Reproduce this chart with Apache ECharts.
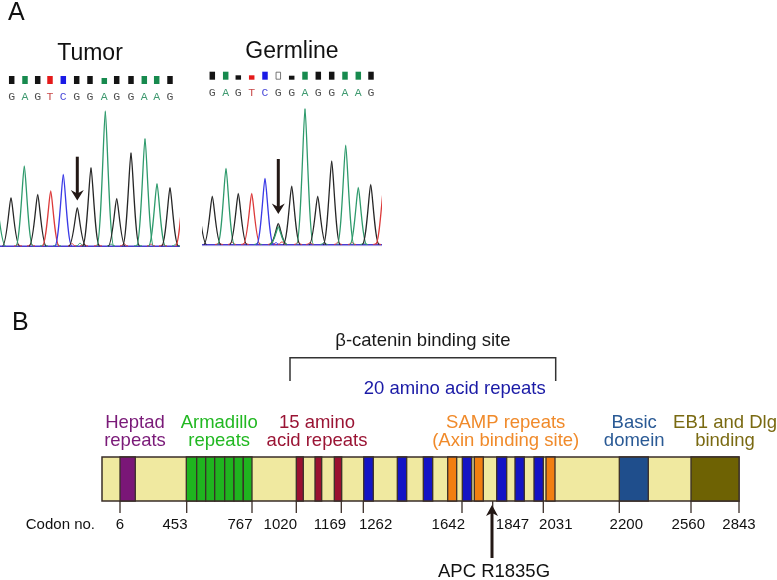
<!DOCTYPE html>
<html><head><meta charset="utf-8">
<script src="https://cdn.jsdelivr.net/npm/echarts@6/dist/echarts.min.js"></script>
<style>html,body{margin:0;padding:0;background:#fff}#c{width:777px;height:580px}</style>
</head><body><div id="c"></div>
<script>
// ================= DATA =================
// Panel A — Sanger traces (trace position units, signal height units)
const tumorCalls       = ['G','A','G','T','C','G','G','A','G','G','A','A','G'];
const tumorCallPos     = [11.7, 25, 37.7, 50, 63.3, 76.7, 90, 104.3, 116.7, 131, 144.3, 156.7, 170];
const tumorCallQual    = [1, 1, 1, 1, 1, 1, 1, 0.75, 1, 1, 1, 1, 1];
const tumorPeakPos     = [-3, 11, 24.3, 37.7, 50.7, 63.3, 77.3, 91, 105.3, 116.7, 131, 145, 157, 170, 184];
const tumorPeakHeight  = [40, 48.4, 80, 51.7, 55, 71.7, 38.4, 78.4, 135, 47.7, 93.4, 107.7, 62.4, 58.4, 62];
const tumorPeakBase    = ['A','G','A','G','T','C','G','G','A','G','G','A','A','G','T'];
const tumorNoisePos    = [18, 31, 44, 57, 72, 80, 84, 98, 111, 124, 138, 151, 163, 176];
const tumorNoiseHeight = [1.5, 2, 1.5, 2, 2.5, 3, 2, 1.5, 2, 2.5, 1.5, 2, 1.5, 2];
const tumorNoiseBase   = ['T','T','A','A','T','A','T','T','A','T','A','T','T','A'];
const tumorArrow       = [77.3, 89.3, 45.5];   // position, top, tip

const germCalls        = ['G','A','G','T','C','G','G','A','G','G','A','A','G'];
const germCallPos      = [10.3, 23.7, 36.3, 49.7, 63, 76.3, 89.7, 103, 116.3, 129.7, 143, 156.3, 169];
const germCallQual     = [1, 1, 0.55, 0.55, 1, 0, 0.5, 1, 1, 1, 1, 1, 1];
const germPeakPos      = [-4, 10.3, 24, 36.3, 49.7, 63, 76.3, 76.3, 89.7, 103, 115.7, 129.7, 143.7, 156.3, 168.7, 182];
const germPeakHeight   = [40, 48.3, 76, 51, 51, 66, 21, 17.5, 58.3, 136, 48.3, 83.6, 99.3, 57, 60, 60];
const germPeakBase     = ['G','G','A','G','T','C','G','A','G','A','G','G','A','A','G','T'];
const germNoisePos     = [17, 30, 43, 56, 70, 74, 80, 96, 108, 122, 136, 150, 162, 175];
const germNoiseHeight  = [1.5, 2.5, 2, 2, 2.5, 2, 3, 2.5, 2, 2, 2.5, 2, 1.5, 2];
const germNoiseBase    = ['T','T','T','A','T','C','T','T','T','A','T','T','A','T'];
const germArrow        = [76.3, 85.5, 30.5];

// Panel B — APC protein schematic (schematic position units along the bar)
const barLength   = 637;
const domainStart = [18, 84.3, 94.7, 103.7, 112.7, 122.7, 132, 141.3, 194.3, 213, 232.3, 261.7, 295.3, 321.3, 345.7, 360.3, 372.3, 394.7, 413, 432, 444, 517.3, 589];
const domainEnd   = [33.3, 94.7, 103.7, 112.7, 122.7, 132, 141.3, 150, 201.3, 219.7, 239.7, 271.3, 304.7, 330.7, 354.7, 369.7, 381.3, 404.7, 422.3, 441.3, 453, 546.3, 637];
const domainType  = ['heptad','arm','arm','arm','arm','arm','arm','arm','aa15','aa15','aa15','aa20','aa20','aa20','samp','aa20','samp','aa20','aa20','aa20','samp','basic','eb1'];
const codonTicks   = [6, 453, 767, 1020, 1169, 1262, 1642, 1847, 2031, 2200, 2560, 2843];
const codonTickPos = [18, 84.7, 150, 194.3, 239.3, 261.3, 360, 390.7, 441.3, 517.3, 589, 637];
const betaCateninSpan = [188, 453.7];
const mutationPos   = 390;
const mutationLabel = 'APC R1835G';
const domainLabelText = ['Heptad\nrepeats', 'Armadillo\nrepeats', '15 amino\nacid repeats', 'SAMP repeats\n(Axin binding site)', 'Basic\ndomein', 'EB1 and Dlg\nbinding'];
const domainLabelType = ['heptad', 'arm', 'aa15', 'samp', 'basic', 'eb1'];

// ================= LAYOUT / STYLE =================
const domainLabelPos = [33, 117.2, 215, 403.7, 532.2, 623];
const codonLabelShift = [0, -11.7, -12, -16, -11.3, 12.3, -13.7, 19.8, 12.5, 7, -2.7, 0];
const TRACE = {G:'#262626', A:'#2e9a6c', T:'#dc3a3a', C:'#3a3ae6'};
const CALL_TEXT = {G:'#505050', A:'#3f9a70', T:'#c84848', C:'#4a4ad8'};
const CALL_BOX = {G:'#141414', A:'#178a4e', T:'#e41a1a', C:'#1a1ae6'};
const DOMAIN_FILL = {heptad:'#7a1677', arm:'#1fb41f', aa15:'#9a1030', aa20:'#1414c4', samp:'#f27e10', basic:'#1f4e8c', eb1:'#6e6203'};
const DOMAIN_TEXT = {heptad:'#7a1a78', arm:'#22b822', aa15:'#9a1434', samp:'#f08a2a', basic:'#2a5a95', eb1:'#7a6a12'};
const BAR_FILL = '#f0e9a0', BAR_LINE = '#3a2e28';
const FONT = '"Liberation Sans", Arial, sans-serif';

function peakSeries(g, pos, h, base, halfW, lw) {
  return {type:'custom', xAxisIndex:g, yAxisIndex:g, clip:true, silent:true, z:3,
    data: pos.map((p,i)=>[p, h[i]]),
    renderItem(params, api){
      const c = TRACE[base[params.dataIndex]];
      const b = api.coord([api.value(0), 0]), t = api.coord([api.value(0), api.value(1)]);
      const mk = s => ({type:'bezierCurve', shape:{x1:b[0]+s*halfW, y1:b[1], cpx1:b[0]+s*halfW*0.5, cpy1:b[1], cpx2:b[0]+s*halfW*0.16, cpy2:t[1], x2:t[0], y2:t[1]}, style:{stroke:c, fill:'none', lineWidth:lw}});
      return {type:'group', children:[mk(-1), mk(1)]};
    }};
}
function baselineSeries(g) {
  return {type:'custom', xAxisIndex:g, yAxisIndex:g, clip:true, silent:true, z:2,
    data:[[0,180]],
    renderItem(params, api){
      const a = api.coord([api.value(0),0]), b = api.coord([api.value(1),0]);
      return {type:'group', children:[
        {type:'line', shape:{x1:a[0], y1:a[1]+0.3, x2:b[0], y2:b[1]+0.3}, style:{stroke:'#4a3ad0', lineWidth:1.4}},
        {type:'line', shape:{x1:a[0], y1:a[1]+2.6, x2:b[0], y2:b[1]+2.6}, style:{stroke:'#d8d8d8', lineWidth:1}}
      ]};
    }};
}
function callSeries(g, pos, calls, qual, letterY, boxY) {
  return {type:'custom', xAxisIndex:g, yAxisIndex:g, clip:false, silent:true, z:4,
    data: pos.map((p,i)=>[p, qual[i]]),
    renderItem(params, api){
      const i = params.dataIndex, x = api.coord([api.value(0),0])[0], q = api.value(1), base = calls[i];
      const bw = 5.5, bh = 8, ch = [];
      if (q > 0) ch.push({type:'rect', shape:{x:x-bw/2, y:boxY-bh/2+bh*(1-q), width:bw, height:bh*q}, style:{fill:CALL_BOX[base]}});
      if (q === 0) ch.push({type:'rect', shape:{x:x-bw/2+0.5, y:boxY-bh/2+0.5, width:bw-1, height:bh-1}, style:{fill:'#fff', stroke:'#555', lineWidth:0.8}});
      ch.push({type:'text', x:x, y:letterY, style:{text:base, fill:CALL_TEXT[base], font:'11.5px "Liberation Mono", monospace', align:'center', verticalAlign:'middle'}});
      return {type:'group', children:ch};
    }};
}
function arrowSeries(g, arr) {
  return {type:'custom', xAxisIndex:g, yAxisIndex:g, clip:false, silent:true, z:5,
    data:[arr],
    renderItem(params, api){
      const top = api.coord([api.value(0), api.value(1)]), tip = api.coord([api.value(0), api.value(2)]);
      const x = tip[0], ty = tip[1];
      return {type:'group', children:[
        {type:'line', shape:{x1:x, y1:top[1], x2:x, y2:ty-6}, style:{stroke:'#231815', lineWidth:3}},
        {type:'polygon', shape:{points:[[x,ty],[x-6.5,ty-10.5],[x,ty-7],[x+6.5,ty-10.5]]}, style:{fill:'#231815'}}
      ]};
    }};
}

const series = [
  baselineSeries(0),
  peakSeries(0, tumorNoisePos, tumorNoiseHeight, tumorNoiseBase, 4, 1),
  peakSeries(0, tumorPeakPos, tumorPeakHeight, tumorPeakBase, 8.5, 1.3),
  callSeries(0, tumorCallPos, tumorCalls, tumorCallQual, 97, 80),
  arrowSeries(0, tumorArrow),
  baselineSeries(1),
  peakSeries(1, germNoisePos, germNoiseHeight, germNoiseBase, 4, 1),
  peakSeries(1, germPeakPos, germPeakHeight, germPeakBase, 8.5, 1.3),
  callSeries(1, germCallPos, germCalls, germCallQual, 93.3, 75.7),
  arrowSeries(1, germArrow),
  {type:'custom', xAxisIndex:2, yAxisIndex:2, clip:false, silent:true, z:2,
    data:[[0, barLength]],
    renderItem(params, api){
      const a = api.coord([api.value(0),1]), b = api.coord([api.value(1),0]);
      return {type:'rect', shape:{x:a[0], y:a[1], width:b[0]-a[0], height:b[1]-a[1]}, style:{fill:BAR_FILL, stroke:BAR_LINE, lineWidth:1.5}};
    }},
  {type:'custom', xAxisIndex:2, yAxisIndex:2, clip:false, silent:true, z:3,
    data: domainStart.map((s,i)=>[s, domainEnd[i]]),
    renderItem(params, api){
      const a = api.coord([api.value(0),1]), b = api.coord([api.value(1),0]);
      return {type:'rect', shape:{x:a[0], y:a[1], width:b[0]-a[0], height:b[1]-a[1]}, style:{fill:DOMAIN_FILL[domainType[params.dataIndex]], stroke:BAR_LINE, lineWidth:1.3}};
    }},
  {type:'custom', xAxisIndex:2, yAxisIndex:2, clip:false, silent:true, z:4,
    data: codonTickPos.map((p,i)=>[p, codonTicks[i]]),
    renderItem(params, api){
      const p = api.coord([api.value(0),0]);
      return {type:'group', children:[
        {type:'line', shape:{x1:p[0], y1:p[1], x2:p[0], y2:p[1]+12}, style:{stroke:BAR_LINE, lineWidth:1.3}},
        {type:'text', x:p[0]+codonLabelShift[params.dataIndex], y:p[1]+24, style:{text:String(codonTicks[params.dataIndex]), fill:'#111', font:'15px '+FONT, align:'center', verticalAlign:'middle'}}
      ]};
    }},
  {type:'custom', xAxisIndex:2, yAxisIndex:2, clip:false, silent:true, z:6,
    data:[[mutationPos, 0]],
    renderItem(params, api){
      const p = api.coord([api.value(0),0]);
      const x = p[0], ty = p[1]+4;
      return {type:'group', children:[
        {type:'line', shape:{x1:x, y1:ty+7, x2:x, y2:ty+53}, style:{stroke:'#231815', lineWidth:3}},
        {type:'polygon', shape:{points:[[x,ty],[x-6,ty+11],[x,ty+8],[x+6,ty+11]]}, style:{fill:'#231815'}},
        {type:'text', x:x+2, y:ty+67, style:{text:mutationLabel, fill:'#111', font:'18.5px '+FONT, align:'center', verticalAlign:'middle'}}
      ]};
    }},
  {type:'custom', xAxisIndex:2, yAxisIndex:2, clip:false, silent:true, z:4,
    data:[betaCateninSpan],
    renderItem(params, api){
      const a = api.coord([api.value(0),1]), b = api.coord([api.value(1),1]);
      const top = a[1]-99.3, bot = a[1]-76;
      return {type:'group', children:[
        {type:'polyline', shape:{points:[[a[0],bot],[a[0],top],[b[0],top],[b[0],bot]]}, style:{stroke:'#333', lineWidth:1.5, fill:'none'}},
        {type:'text', x:(a[0]+b[0])/2, y:a[1]-116.5, style:{text:'β-catenin binding site', fill:'#1a1a1a', font:'18.5px '+FONT, align:'center', verticalAlign:'middle'}},
        {type:'text', x:b[0]-101, y:a[1]-68, style:{text:'20 amino acid repeats', fill:'#1a1aa6', font:'18.5px '+FONT, align:'center', verticalAlign:'middle'}}
      ]};
    }},
  {type:'custom', xAxisIndex:2, yAxisIndex:2, clip:false, silent:true, z:4,
    data: domainLabelPos.map(p=>[p,1]),
    renderItem(params, api){
      const p = api.coord([api.value(0),1]);
      return {type:'text', x:p[0], y:p[1]-25, style:{text:domainLabelText[params.dataIndex], fill:DOMAIN_TEXT[domainLabelType[params.dataIndex]], font:'18.5px '+FONT, lineHeight:18.5, align:'center', verticalAlign:'middle'}};
    }}
];

const chart = echarts.init(document.getElementById('c'), null, {renderer:'canvas', width:777, height:580});
chart.setOption({
  animation:false,
  backgroundColor:'#ffffff',
  grid:[
    {left:0, top:96, width:180, height:152, outerBoundsMode:'none'},
    {left:202, top:94.5, width:180, height:152, outerBoundsMode:'none'},
    {left:102, top:457, width:637, height:44, outerBoundsMode:'none'}
  ],
  xAxis:[
    {gridIndex:0, type:'value', min:0, max:180, show:false},
    {gridIndex:1, type:'value', min:0, max:180, show:false},
    {gridIndex:2, type:'value', min:0, max:barLength, show:false}
  ],
  yAxis:[
    {gridIndex:0, type:'value', min:-2, max:150, show:false},
    {gridIndex:1, type:'value', min:-2, max:150, show:false},
    {gridIndex:2, type:'value', min:0, max:1, show:false}
  ],
  graphic:[
    {type:'text', left:8, top:1, style:{text:'A', fill:'#111', font:'25px '+FONT}},
    {type:'text', left:12, top:311, style:{text:'B', fill:'#111', font:'25px '+FONT}},
    {type:'text', x:90, y:54, style:{text:'Tumor', fill:'#111', font:'23px '+FONT, align:'center', verticalAlign:'middle'}},
    {type:'text', x:292, y:52, style:{text:'Germline', fill:'#111', font:'23px '+FONT, align:'center', verticalAlign:'middle'}},
    {type:'text', x:95, y:525, style:{text:'Codon no.', fill:'#111', font:'15px '+FONT, align:'right', verticalAlign:'middle'}}
  ],
  series: series
});
</script></body></html>
